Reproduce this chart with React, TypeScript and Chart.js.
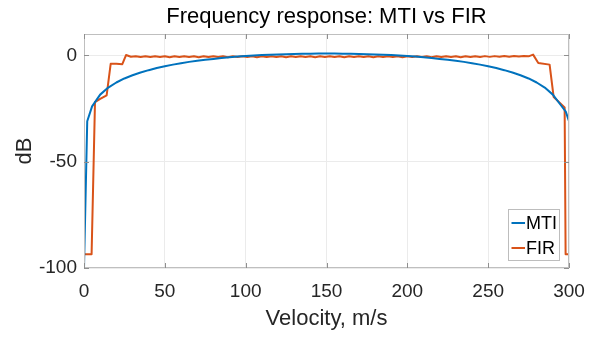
import React, { useEffect, useRef } from "react";
import { Chart, registerables } from "chart.js";

Chart.register(...registerables);

// ---- data ----
const MTI_VELOCITY = [
  0, 2, 5, 10, 15, 20, 25, 30, 35, 40, 45, 50, 55, 60, 65, 70, 75, 80, 85, 90, 95,
  100, 105, 110, 115, 120, 125, 130, 135, 140, 145, 150, 155, 160, 165, 170, 175,
  180, 185, 190, 195, 200, 205, 210, 215, 220, 225, 230, 235, 240, 245, 250, 255,
  260, 265, 270, 275, 280, 285, 290, 295, 298, 300,
];
const MTI_DB = [
  -100, -31, -24, -18.5, -15.2, -12.8, -10.9, -9.4, -8.1, -7.0, -6.0, -5.2, -4.4,
  -3.7, -3.1, -2.6, -2.1, -1.7, -1.3, -0.9, -0.6, -0.3, -0.1, 0.1, 0.3, 0.4, 0.5,
  0.6, 0.7, 0.7, 0.8, 0.8, 0.8, 0.7, 0.7, 0.6, 0.5, 0.4, 0.3, 0.1, -0.1, -0.3,
  -0.6, -0.9, -1.3, -1.7, -2.1, -2.6, -3.1, -3.7, -4.4, -5.2, -6.0, -7.0, -8.1,
  -9.4, -10.9, -12.8, -15.2, -18.5, -23.5, -26.5, -31,
];

const FIR_VELOCITY = [
  0, 4.7, 6.8, 10, 14, 16.5, 20, 23.7, 26,
  29, 32, 35, 38, 41, 44, 47, 50, 53, 56, 59, 62, 65, 68, 71, 74, 77, 80, 83, 86,
  89, 92, 95, 98, 101, 104, 107, 110, 113, 116, 119, 122, 125, 128, 131, 134, 137,
  140, 143, 146, 149, 152, 155, 158, 161, 164, 167, 170, 173, 176, 179, 182, 185,
  188, 191, 194, 197, 200, 203, 206, 209, 212, 215, 218, 221, 224, 227, 230, 233,
  236, 239, 242, 245, 248, 251, 254, 257, 260, 263, 266, 269, 272, 275,
  277.8, 281, 288, 290.5, 297.3, 297.9, 300,
];
const FIR_DB = [
  -93.5, -93.5, -22, -20.5, -18.8, -4.0, -4.0, -4.2, 0.1,
  -0.7, -0.45, -0.85, -0.5, -0.85, -0.5, -0.85, -0.5, -0.9, -0.5, -0.85, -0.5, -0.85,
  -0.5, -0.9, -0.5, -0.85, -0.5, -0.85, -0.5, -0.9, -0.5, -0.85, -0.5, -0.85, -0.5,
  -0.9, -0.5, -0.85, -0.5, -0.85, -0.5, -0.9, -0.5, -0.85, -0.5, -0.85, -0.5, -0.9,
  -0.5, -0.85, -0.5, -0.85, -0.5, -0.9, -0.5, -0.85, -0.5, -0.85, -0.5, -0.9, -0.5,
  -0.85, -0.5, -0.85, -0.5, -0.9, -0.5, -0.85, -0.5, -0.85, -0.5, -0.9, -0.5, -0.85,
  -0.5, -0.85, -0.5, -0.9, -0.5, -0.85, -0.45, -0.8, -0.4, -0.75, -0.4, -0.7, -0.35,
  -0.65, -0.3, -0.6, -0.3, -0.5,
  0.3, -3.6, -4.4, -19.6, -24.5, -93.5, -93.5,
];

const X_TICKS = [0, 50, 100, 150, 200, 250, 300];
const Y_TICKS = [-100, -50, 0];

const SERIES_NAMES = ["MTI", "FIR"];
const TITLE = "Frequency response: MTI vs FIR";
const X_LABEL = "Velocity, m/s";
const Y_LABEL = "dB";

const COLORS = ["#0072BD", "#D95319"];
const FONT = "'Liberation Sans', Arial, Helvetica, sans-serif";
const TEXT = "#262626";
const AXIS = "#bfbfbf";
const TICK = "#8f8f8f";

const framePlugin = {
  id: "frame",
  afterDatasetsDraw(chart: any) {
    const { ctx, chartArea } = chart;
    const { left, right, top, bottom } = chartArea;
    const xs = chart.scales.x;
    const ys = chart.scales.y;
    ctx.save();
    // box
    ctx.strokeStyle = AXIS;
    ctx.lineWidth = 1;
    ctx.strokeRect(Math.round(left) + 0.5, Math.round(top) + 0.5, Math.round(right - left) - 1, Math.round(bottom - top) - 1);
    // inward ticks
    ctx.strokeStyle = TICK;
    ctx.beginPath();
    const tl = 5;
    X_TICKS.forEach((v) => {
      const x = Math.round(xs.getPixelForValue(v)) + 0.5;
      ctx.moveTo(x, bottom);
      ctx.lineTo(x, bottom - tl);
      ctx.moveTo(x, top);
      ctx.lineTo(x, top + tl);
    });
    Y_TICKS.forEach((v) => {
      const y = Math.round(ys.getPixelForValue(v)) + 0.5;
      ctx.moveTo(left, y);
      ctx.lineTo(left + tl, y);
      ctx.moveTo(right, y);
      ctx.lineTo(right - tl, y);
    });
    ctx.stroke();

    // legend
    const bx = 508.5, by = 209.5, bw = 51, bh = 51;
    ctx.fillStyle = "#ffffff";
    ctx.fillRect(bx, by, bw, bh);
    ctx.strokeStyle = "#bdbdbd";
    ctx.strokeRect(bx, by, bw, bh);
    ctx.font = `18px ${FONT}`;
    ctx.textBaseline = "middle";
    ctx.textAlign = "left";
    SERIES_NAMES.forEach((name, i) => {
      const y = 223 + i * 25;
      ctx.strokeStyle = COLORS[i];
      ctx.lineWidth = 2;
      ctx.beginPath();
      ctx.moveTo(511.5, y);
      ctx.lineTo(525, y);
      ctx.stroke();
      ctx.fillStyle = "#000000";
      ctx.fillText(name, 526, y + 1);
    });

    // title centred over the plot area
    ctx.font = `22px ${FONT}`;
    ctx.textAlign = "center";
    ctx.textBaseline = "alphabetic";
    ctx.fillStyle = "#000000";
    ctx.fillText(TITLE, (left + right) / 2, 23);
    ctx.restore();
  },
};

export default function App() {
  const ref = useRef<HTMLCanvasElement>(null);
  useEffect(() => {
    const canvas = ref.current;
    if (!canvas) return;
    const chart = new Chart(canvas, {
      type: "line",
      data: {
        datasets: [
          {
            label: SERIES_NAMES[0],
            data: MTI_VELOCITY.map((v, i) => ({ x: v, y: MTI_DB[i] })),
            borderColor: COLORS[0],
            backgroundColor: COLORS[0],
            borderWidth: 2,
            pointRadius: 0,
            tension: 0,
            fill: false,
            borderJoinStyle: "round",
          },
          {
            label: SERIES_NAMES[1],
            data: FIR_VELOCITY.map((v, i) => ({ x: v, y: FIR_DB[i] })),
            borderColor: COLORS[1],
            backgroundColor: COLORS[1],
            borderWidth: 2,
            pointRadius: 0,
            tension: 0,
            fill: false,
            borderJoinStyle: "round",
          },
        ],
      },
      options: {
        responsive: false,
        animation: false,
        devicePixelRatio: 1,
        layout: { padding: { left: 0, right: 29, top: 34, bottom: 0 } },
        scales: {
          x: {
            type: "linear",
            min: 0,
            max: 300,
            afterBuildTicks: (s: any) => {
              s.ticks = X_TICKS.map((v) => ({ value: v }));
            },
            afterFit: (s: any) => {
              s.height = 69;
            },
            ticks: {
              font: { family: FONT, size: 19 },
              color: TEXT,
              padding: 12,
              maxRotation: 0,
              autoSkip: false,
            },
            grid: { color: "#ebebeb", drawTicks: false, lineWidth: 1 },
            border: { display: false },
            title: {
              display: true,
              text: X_LABEL,
              font: { family: FONT, size: 22 },
              color: TEXT,
              padding: { top: 0, bottom: 5 },
            },
          },
          y: {
            type: "linear",
            min: -100,
            max: 10,
            afterBuildTicks: (s: any) => {
              s.ticks = Y_TICKS.map((v) => ({ value: v }));
            },
            afterFit: (s: any) => {
              s.width = 84;
            },
            ticks: {
              font: { family: FONT, size: 19 },
              color: TEXT,
              padding: 7,
              autoSkip: false,
            },
            grid: { color: "#ebebeb", drawTicks: false, lineWidth: 1 },
            border: { display: false },
            title: {
              display: true,
              text: Y_LABEL,
              font: { family: FONT, size: 22 },
              color: TEXT,
              padding: { top: 12, bottom: 0 },
            },
          },
        },
        plugins: {
          legend: { display: false },
          tooltip: { enabled: false },
          title: { display: false },
        },
      } as any,
      plugins: [framePlugin],
    });
    return () => chart.destroy();
  }, []);
  return (
    <div style={{ position: "fixed", left: 0, top: 0, width: 598, height: 337, background: "#fff" }}>
      <canvas ref={ref} width={598} height={337} style={{ display: "block" }} />
    </div>
  );
}
